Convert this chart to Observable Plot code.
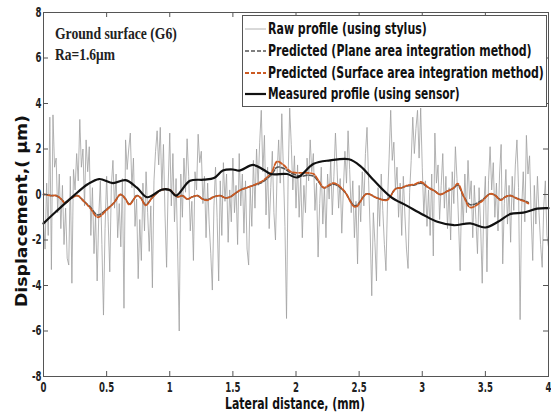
<!DOCTYPE html>
<html><head><meta charset="utf-8">
<script src="https://cdn.jsdelivr.net/npm/d3@7"></script>
<script src="https://cdn.jsdelivr.net/npm/@observablehq/plot@0.6"></script>
<style>body{margin:0;background:#fff} svg{display:block}</style>
</head><body><div id="chart"></div>
<script>
// Raw profile (stylus), sampled every 0.0125 mm from 0 to 4 mm
const rawStep = 0.0125;
const rawY = [
-1.2,-2.4,0.5,-1.8,3.4,-3.3,3.5,1.2,1.6,-0.8,0.9,-1.5,0.4,-2.2,-0.6,-2.8,-3.1,0.8,-3.9,1.1,
0.2,1.8,0.6,3.3,1.2,2.0,-0.5,2.4,1.0,2.1,-1.8,0.3,-2.6,-0.9,-3.8,-1.0,0.6,-2.2,-5.3,-1.5,
0.8,-1.2,-3.4,0.4,1.5,-0.6,0.9,-1.9,-0.4,-2.3,0.7,-5.0,2.4,1.1,2.0,2.7,0.3,1.6,-1.4,-0.2,
-3.7,-1.1,-2.9,0.5,-1.6,1.0,-0.8,-2.5,-0.5,-4.1,0.6,1.9,2.8,1.3,2.95,0.2,2.2,-0.9,-3.2,0.4,
2.7,-0.5,1.8,-1.2,0.7,-2.4,-6.0,0.9,-1.0,1.6,0.1,2.45,0.8,-1.6,-0.3,-2.9,1.0,0.2,2.65,1.4,
1.9,-0.4,0.8,-1.9,0.5,-1.3,-2.6,-4.2,-0.5,1.2,-1.0,-3.8,0.6,-1.8,1.4,-0.3,0.9,-2.1,0.2,-1.2,
1.6,-0.8,0.4,-2.2,1.8,-0.5,0.9,-1.7,0.6,-2.4,-3.1,0.3,-1.4,1.5,-0.6,2.0,0.4,2.3,3.7,1.0,
2.6,-0.9,1.2,-1.5,0.3,1.9,-0.8,-2.0,0.9,2.4,0.5,3.55,1.1,-1.4,-5.45,0.7,3.8,2.2,0.2,1.7,
-0.6,1.3,-1.0,0.8,-1.9,0.4,-0.8,1.6,0.6,2.4,1.0,1.8,-0.7,0.5,-2.75,-0.4,1.2,-1.3,0.3,-1.9,
0.9,-0.2,1.5,-0.9,0.8,2.7,1.2,-0.6,0.7,-1.7,0.2,1.9,0.5,2.8,1.1,-0.8,0.6,-1.9,-0.3,-3.05,
0.4,-1.2,1.0,-0.5,1.8,2.95,0.6,-1.6,-4.45,-0.8,-2.1,-3.8,0.3,-1.4,0.9,-0.7,-2.2,-3.35,-0.3,1.6,
3.7,1.5,2.3,0.2,1.2,-1.0,0.5,-1.8,0.8,-0.9,-2.4,-3.25,0.1,1.5,3.4,1.8,2.9,3.7,1.6,3.8,
1.2,-0.9,0.6,-1.4,0.2,-1.8,0.9,-2.7,2.7,0.5,1.3,-1.1,0.4,1.8,-0.6,0.8,-1.5,0.3,-2.0,1.0,
-0.4,2.1,0.7,-1.2,-3.35,0.2,-1.3,0.9,-0.8,1.5,-0.2,0.6,-1.9,0.4,-1.1,-2.6,0.3,-1.4,-3.9,-0.5,
0.8,-3.4,0.6,2.1,0.2,1.4,-1.0,0.5,-1.6,0.9,2.2,-3.05,-0.4,1.1,-1.3,0.4,-2.1,0.8,-0.7,1.3,
2.4,0.3,-5.5,-0.6,1.0,-1.2,2.6,0.9,1.7,-0.9,-2.9,0.4,-1.3,0.8,-0.8,-2.2,-3.2,-0.5,0.6,-1.8,-2.3
];
// Predicted (surface area integration method)
const surfX = [0,0.02,0.06,0.1,0.14,0.17,0.21,0.24,0.27,0.32,0.37,0.43,0.5,0.56,0.61,0.65,0.68,0.74,0.77,0.81,0.86,0.93,1.0,1.06,1.1,1.14,1.18,1.22,1.26,1.3,1.35,1.4,1.44,1.48,1.52,1.56,1.61,1.66,1.72,1.77,1.81,1.85,1.9,1.96,2.04,2.09,2.14,2.18,2.22,2.3,2.38,2.47,2.56,2.64,2.72,2.79,2.84,2.88,2.94,2.99,3.05,3.1,3.14,3.2,3.25,3.28,3.33,3.38,3.46,3.54,3.58,3.62,3.66,3.7,3.74,3.78,3.81,3.84];
const surfY = [0,0,-0.05,-0.05,-0.2,-0.38,-0.2,-0.1,-0.05,-0.3,-0.6,-1.0,-0.68,-0.35,0.0,-0.2,-0.45,-0.05,-0.15,-0.48,-0.15,0.2,0.2,-0.1,-0.05,-0.2,-0.1,-0.05,-0.2,-0.25,-0.1,-0.05,-0.15,-0.1,0.05,0.2,0.3,0.4,0.55,0.75,1.0,1.45,1.3,1.0,0.95,0.95,0.9,0.6,0.3,0.5,0.17,-0.55,0.03,-0.15,-0.25,0.25,0.3,0.4,0.45,0.55,0.3,0.15,0.0,0.15,0.3,0.48,-0.1,-0.57,-0.35,0.03,-0.05,-0.25,-0.1,-0.05,-0.15,-0.25,-0.3,-0.4];
// Predicted (plane area integration method)
const planeX = surfX;
const planeY = [0,0,-0.05,-0.05,-0.2,-0.35,-0.2,-0.1,-0.05,-0.3,-0.55,-0.9,-0.65,-0.35,0.0,-0.2,-0.42,-0.05,-0.15,-0.45,-0.15,0.18,0.18,-0.1,-0.05,-0.2,-0.1,-0.05,-0.2,-0.22,-0.1,-0.05,-0.15,-0.1,0.05,0.2,0.3,0.4,0.5,0.7,0.9,1.2,1.15,0.95,0.8,0.85,0.8,0.55,0.3,0.45,0.15,-0.5,0.03,-0.15,-0.22,0.25,0.3,0.38,0.42,0.5,0.3,0.15,0.0,0.15,0.28,0.42,-0.1,-0.45,-0.3,0.03,-0.05,-0.22,-0.1,-0.05,-0.15,-0.22,-0.28,-0.35];
// Measured profile (sensor)
const measX = [0,0.1,0.24,0.35,0.44,0.55,0.65,0.74,0.82,0.94,1.0,1.05,1.16,1.27,1.35,1.42,1.5,1.55,1.66,1.74,1.8,1.93,2.01,2.14,2.27,2.42,2.51,2.62,2.75,2.88,3.01,3.12,3.25,3.38,3.5,3.6,3.7,3.8,3.91,4.0];
const measY = [-1.27,-0.75,-0.05,0.45,0.68,0.5,0.63,0.3,-0.12,0.22,0.2,-0.05,0.6,0.65,0.72,1.05,1.1,1.05,1.3,1.1,0.9,0.9,0.75,1.35,1.5,1.55,1.25,0.6,-0.1,-0.5,-0.9,-1.2,-1.35,-1.27,-1.45,-1.2,-0.85,-0.8,-0.62,-0.6];

const xTicks = [0,0.5,1,1.5,2,2.5,3,3.5,4];
const yTicks = [-8,-6,-4,-2,0,2,4,6,8];
const seriesNames = ["Raw profile (using stylus)","Predicted (Plane area integration method)","Predicted (Surface area integration method)","Measured profile (using sensor)"];
const titleLines = ["Ground surface (G6)","Ra=1.6μm"];
const xLabel = "Lateral distance, (mm)";
const yLabel = "Displacement,( μm)";

const colors = {raw:"#a0a0a0", plane:"#555555", surf:"#cc5a22", meas:"#111111"};
const narrow = "'Liberation Sans Narrow','DejaVu Sans Condensed','Liberation Sans',Arial,sans-serif";

const raw = rawY.map((y,i)=>({x:i*rawStep, y}));
const surf = surfX.map((x,i)=>({x, y:surfY[i]}));
const plane = planeX.map((x,i)=>({x, y:planeY[i]}));
const meas = measX.map((x,i)=>({x, y:measY[i]}));

const W = 551, H = 417, mL = 43, mR = 3, mT = 12, mB = 41;
const frameH = H - mT - mB, frameW = W - mL - mR;

const chart = Plot.plot({
  width: W, height: H,
  marginLeft: mL, marginRight: mR, marginTop: mT, marginBottom: mB,
  style: {fontFamily: narrow, fontSize: "14px", fontWeight: "bold", color: "#222", background: "#fff"},
  x: {domain: [0,4]},
  y: {domain: [-8,8]},
  marks: [
    Plot.line(raw, {x:"x", y:"y", stroke: colors.raw, strokeWidth: 0.8}),
    Plot.line(plane, {x:"x", y:"y", stroke: colors.plane, strokeWidth: 1.6, strokeDasharray: "4,2", curve: "catmull-rom"}),
    Plot.line(surf, {x:"x", y:"y", stroke: colors.surf, strokeWidth: 1.8, strokeDasharray: "4,2", strokeDashoffset: 3, curve: "catmull-rom"}),
    Plot.line(meas, {x:"x", y:"y", stroke: colors.meas, strokeWidth: 2.2, curve: "catmull-rom"}),
    Plot.tickX(xTicks, {x: d=>d, insetTop: frameH-5, stroke: "#555"}),
    Plot.tickX(xTicks, {x: d=>d, insetBottom: frameH-5, stroke: "#555"}),
    Plot.tickY(yTicks, {y: d=>d, insetRight: frameW-5, stroke: "#555"}),
    Plot.tickY(yTicks, {y: d=>d, insetLeft: frameW-5, stroke: "#555"}),
    Plot.axisX(xTicks, {tickSize: 0, tickPadding: 6, label: null, tickFormat: d=>String(d), fontSize: 14}),
    Plot.axisY(yTicks, {tickSize: 0, tickPadding: 2, label: null, tickFormat: d=>String(d), fontSize: 14}),
    Plot.frame({stroke: "#555"})
  ]
});
document.getElementById("chart").appendChild(chart);

const svg = d3.select(chart);
// Condense tick labels (narrow look of the original)
svg.selectAll('g[aria-label="x-axis tick label"] text, g[aria-label="y-axis tick label"] text').each(function() {
  const t = this.getAttribute("transform") || "";
  this.setAttribute("transform", t + " scale(0.68,1)");
});

// Helper: text squeezed horizontally to a target width
function fitText(g, str, x, y, target, attrs, rotate) {
  const t = g.append("text").attr("text-anchor","start").text(str);
  for (const k in attrs) t.attr(k, attrs[k]);
  const natural = t.node().getComputedTextLength();
  const s = target / natural;
  t.attr("transform", `translate(${x},${y})${rotate ? ` rotate(${rotate})` : ""} scale(${s},1)`);
  return t;
}

// Title text
const serifBold = {"font-family": "'Liberation Serif','Times New Roman',serif", "font-weight": "bold", "font-size": 16, "fill": "#222"};
fitText(svg, titleLines[0], 55, 39, 122, serifBold);
fitText(svg, titleLines[1], 55, 60, 60, serifBold);

// Axis labels
const sansBold = {"font-family": narrow, "font-weight": "bold", "fill": "#111"};
fitText(svg, xLabel, 225, 409, 140, {...sansBold, "font-size": 15});
fitText(svg, yLabel, 27, 307, 192, {...sansBold, "font-size": 16}, -90);

// Legend
const lg = svg.append("g");
lg.append("rect").attr("x", 242.5).attr("y", 15.5).attr("width", 304).attr("height", 91)
  .attr("fill","#fff").attr("stroke","#555");
const styles = [
  {stroke: colors.raw, w: 0.8, dash: null},
  {stroke: colors.plane, w: 1.6, dash: "4,2"},
  {stroke: colors.surf, w: 1.8, dash: "4,2"},
  {stroke: colors.meas, w: 2.2, dash: null}
];
const textW = [159, 264, 276, 192];
const rowsY = [29, 51, 73, 94];
seriesNames.forEach((name, i) => {
  const s = styles[i];
  const l = lg.append("line").attr("x1", 245).attr("x2", 266).attr("y1", rowsY[i]).attr("y2", rowsY[i])
    .attr("stroke", s.stroke).attr("stroke-width", s.w);
  if (s.dash) l.attr("stroke-dasharray", s.dash);
  fitText(lg, name, 268, rowsY[i] + 5, textW[i], {...sansBold, "font-size": 15});
});
</script>
</body></html>
